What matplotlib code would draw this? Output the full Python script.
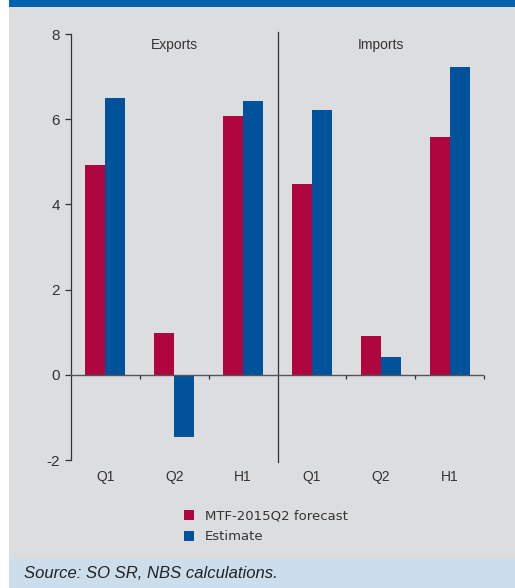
import numpy as np
import matplotlib.pyplot as plt
from matplotlib import font_manager
from matplotlib.patches import Rectangle

# Foreign trade growth, forecast vs estimate (% y/y)
categories = ["Q1", "Q2", "H1", "Q1", "Q2", "H1"]
panels = ["Exports", "Imports"]
forecast = [4.92, 0.99, 6.07, 4.49, 0.92, 5.58]
estimate = [6.49, -1.45, 6.42, 6.21, 0.42, 7.22]
yticks = [-2, 0, 2, 4, 6, 8]

RED = "#B0063F"
BLUE = "#00529B"
PANEL_BG = "#DCDDDF"
HEADER = "#0062AD"
FOOTER = "#CCDDEC"
TEXT = "#333333"

narrow = "DejaVu Sans"
for cand in ["Liberation Sans Narrow", "Liberation Sans"]:
    try:
        font_manager.findfont(cand, fallback_to_default=False)
        narrow = cand
        break
    except ValueError:
        pass
plt.rcParams["font.family"] = [narrow, "DejaVu Sans"]

fig = plt.figure(figsize=(5.15, 5.88), dpi=100)
fig.patch.set_facecolor("white")

# background bands
fig.patches.append(Rectangle((9 / 515, 0), 1 - 9 / 515, 1, transform=fig.transFigure,
                             facecolor=PANEL_BG, edgecolor="none", zorder=-3))
fig.patches.append(Rectangle((9 / 515, 1 - 7 / 588), 1 - 9 / 515, 7 / 588,
                             transform=fig.transFigure, facecolor=HEADER,
                             edgecolor="none", zorder=-2))
fig.patches.append(Rectangle((9 / 515, 0), 1 - 9 / 515, 29 / 588,
                             transform=fig.transFigure, facecolor=FOOTER,
                             edgecolor="none", zorder=-2))

ax = fig.add_axes([71 / 515, 1 - 460 / 588, 413 / 515, 426 / 588])
ax.set_facecolor("none")

x = np.arange(len(categories)) + 0.5
w = 0.29
b1 = ax.bar(x - w / 2, forecast, w, color=RED, label="MTF-2015Q2 forecast", zorder=2)
b2 = ax.bar(x + w / 2, estimate, w, color=BLUE, label="Estimate", zorder=2)

ax.set_xlim(0, len(categories))
ax.set_ylim(-2, 8)

# zero line with category separators
ax.axhline(0, color="#555555", lw=1.0, zorder=3)
ax.vlines([1, 2, 4, 5, 6], -0.1, 0, color="#333333", lw=0.9, zorder=3, clip_on=False)
ax.axvline(3, ymin=-0.005, ymax=1.005, color="#333333", lw=0.9, clip_on=False)

for name, xc in zip(panels, [1.5, 4.5]):
    ax.text(xc, 7.75, name, ha="center", va="center", fontsize=10, color=TEXT)

for s in ["top", "right", "bottom"]:
    ax.spines[s].set_visible(False)
ax.spines["left"].set_color("#333333")
ax.spines["left"].set_linewidth(0.9)

ax.set_yticks(yticks)
ax.set_yticklabels([str(t) for t in yticks])
ax.tick_params(axis="y", length=4, width=0.9, color="#333333", labelsize=11,
               labelcolor=TEXT, pad=4)
ax.set_xticks(x)
ax.set_xticklabels(categories)
ax.tick_params(axis="x", length=0, labelsize=10, labelcolor=TEXT, pad=7)

leg = fig.legend(handles=[b1, b2], loc="upper left",
                 bbox_to_anchor=(172 / 515, 1 - 498 / 588), frameon=False,
                 prop={"family": "DejaVu Sans", "size": 9.5},
                 handlelength=0.8, handleheight=0.8,
                 handletextpad=0.8, labelspacing=0.55)
for t in leg.get_texts():
    t.set_color(TEXT)

fig.text(24 / 515, 14 / 588, "Source: SO SR, NBS calculations.", style="italic",
         fontsize=12, color="#222222", va="center", ha="left")

fig.savefig("out.png", dpi=100)
